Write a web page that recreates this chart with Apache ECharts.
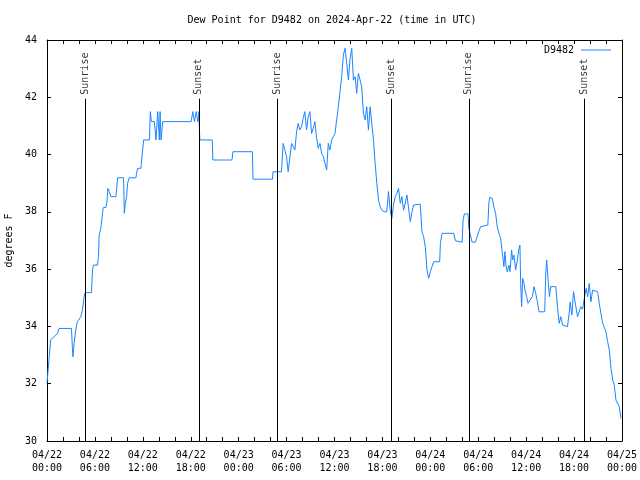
<!DOCTYPE html>
<html>
<head>
<meta charset="utf-8">
<script src="https://cdn.jsdelivr.net/npm/echarts@6/dist/echarts.min.js"></script>
<style>html,body{margin:0;padding:0;background:#fff}#c{width:640px;height:480px}</style>
</head>
<body>
<div id="c"></div>
<script>
// Hours since 2024-04-22 00:00 UTC
var hours = [0.00,0.04,0.25,0.46,0.67,0.88,1.30,1.51,3.06,3.18,3.25,3.39,3.60,3.81,4.02,4.23,4.44,4.65,4.77,5.57,5.70,5.82,6.32,6.45,6.53,6.74,6.95,7.05,7.37,7.50,7.62,7.79,8.00,8.63,8.84,9.59,9.68,9.80,9.97,10.09,10.30,11.14,11.22,11.35,11.77,11.85,12.10,12.82,12.94,13.07,13.23,13.44,13.65,13.86,14.07,14.16,14.28,14.49,18.05,18.26,18.47,18.68,18.89,19.02,19.10,19.15,20.69,20.77,23.16,23.29,25.72,25.80,28.23,28.31,29.36,29.57,29.78,29.99,30.20,30.41,30.62,30.83,31.04,31.25,31.45,31.66,31.87,32.08,32.29,32.50,32.71,32.92,33.13,33.34,33.55,33.76,33.97,34.18,34.39,34.60,34.81,35.02,35.22,35.43,35.64,35.85,36.06,36.27,36.48,36.69,36.90,37.11,37.32,37.53,37.74,37.95,38.16,38.37,38.58,38.78,38.99,39.20,39.41,39.62,39.83,40.04,40.25,40.46,40.67,40.88,41.09,41.30,41.51,41.72,41.93,42.22,42.55,42.76,42.97,43.18,43.39,43.60,43.81,44.02,44.23,44.44,44.65,44.86,45.07,45.28,45.49,45.70,45.91,46.74,46.95,47.16,47.37,47.58,47.79,48.00,48.21,48.42,49.17,49.26,49.47,50.93,51.14,51.27,51.98,52.10,52.27,52.73,52.82,53.02,53.23,53.65,53.86,54.07,54.28,54.49,55.20,55.33,55.45,55.75,55.96,56.17,56.38,56.59,56.80,57.00,57.21,57.34,57.47,57.63,57.84,57.97,58.18,58.30,58.47,58.68,58.89,59.10,59.22,59.31,59.43,59.56,59.73,59.85,60.06,60.23,60.48,60.77,60.98,61.19,61.40,61.61,62.32,62.45,62.57,62.66,62.78,62.91,63.08,63.71,63.92,64.13,64.34,64.55,64.75,65.17,65.38,65.51,65.72,65.93,66.09,66.22,66.43,66.64,66.85,67.06,67.27,67.39,67.52,67.69,67.90,68.11,68.32,68.52,68.94,69.15,69.36,69.57,69.78,69.99,70.20,70.41,70.62,70.83,71.03,71.24,71.45,71.66,71.87];
var dewPoint = [32.04,32.04,32.83,33.53,33.58,33.64,33.75,33.93,33.93,33.24,32.94,33.41,33.88,34.17,34.22,34.34,34.57,35.04,35.18,35.18,35.97,36.14,36.14,36.44,37.19,37.42,37.95,38.15,38.15,38.32,38.82,38.71,38.53,38.53,39.19,39.19,37.95,38.30,38.53,39.00,39.19,39.19,39.35,39.52,39.52,39.81,40.51,40.51,41.50,41.15,41.21,41.15,40.51,41.50,40.51,41.50,40.51,41.15,41.15,41.50,41.15,41.50,41.15,41.50,40.74,40.51,40.51,39.81,39.81,40.10,40.10,39.14,39.14,39.40,39.40,40.39,40.39,39.93,39.40,39.40,40.39,40.33,40.16,40.80,41.09,40.86,40.97,41.27,41.50,40.86,41.32,41.50,40.74,40.92,41.15,40.57,40.22,40.39,40.04,39.93,39.69,39.46,40.39,40.16,40.51,40.62,40.74,41.21,41.67,42.20,42.72,43.48,43.71,43.19,42.60,43.36,43.71,42.60,42.72,42.14,42.84,42.90,42.37,41.44,41.21,41.67,40.86,41.67,41.09,40.51,39.69,39.00,38.41,38.18,38.06,38.00,38.00,38.71,38.06,37.77,38.24,38.53,38.65,38.82,38.30,38.53,38.06,38.30,38.59,38.53,37.66,38.00,38.24,38.27,37.31,37.13,36.78,35.97,35.68,35.91,36.09,36.26,36.26,36.90,37.25,37.25,36.99,36.94,36.94,37.72,37.93,37.93,37.42,37.19,36.94,36.94,37.13,37.31,37.48,37.54,37.54,38.30,38.51,38.47,38.18,37.95,37.48,37.25,37.08,36.61,36.09,36.61,36.14,35.91,36.14,35.91,36.67,36.32,36.49,35.97,36.32,36.73,36.84,35.50,34.69,35.68,35.50,35.27,35.04,34.81,34.86,35.04,35.39,35.16,34.86,34.51,34.51,35.85,36.32,35.97,35.50,35.04,35.39,35.39,34.69,34.11,34.34,34.05,33.99,33.99,34.46,34.86,34.40,35.21,35.21,34.69,34.34,34.34,34.69,34.60,34.57,35.16,35.33,35.04,35.50,34.86,35.27,35.21,35.21,34.81,34.46,34.11,34.11,33.82,33.47,33.18,32.54,32.13,31.96,31.43,31.43,31.20,30.79];
var eventHours = [4.82, 19.02, 28.82, 43.14, 52.82, 67.27];
var eventNames = ["Sunrise", "Sunset", "Sunrise", "Sunset", "Sunrise", "Sunset"];
var eventLineTop = 41.95;
var xTickLabels = ["04/22\n00:00","04/22\n06:00","04/22\n12:00","04/22\n18:00","04/23\n00:00","04/23\n06:00","04/23\n12:00","04/23\n18:00","04/24\n00:00","04/24\n06:00","04/24\n12:00","04/24\n18:00","04/25\n00:00"];
var seriesName = "D9482";
var titleText = "Dew Point for D9482 on 2024-Apr-22 (time in UTC)";
var yName = "degrees F";

var FONT = "DejaVu Sans Mono";
var lineData = hours.map(function (h, i) { return [h, dewPoint[i]]; });
var markData = eventHours.map(function (h) { return [{coord: [h, 30]}, {coord: [h, eventLineTop]}]; });
var labelData = eventHours.map(function (h, i) { return {value: [h, eventLineTop], name: eventNames[i]}; });

var axisCommon = {
  type: 'value', min: 0, max: 72, interval: 6,
  axisLine: {show: true, onZero: false, lineStyle: {color: '#000', width: 1}},
  axisTick: {show: true, inside: true, length: 4, lineStyle: {color: '#000'}},
  minorTick: {show: true, splitNumber: 3, length: 4, lineStyle: {color: '#000'}},
  splitLine: {show: false}
};
var yCommon = {
  type: 'value', min: 30, max: 44, interval: 2,
  axisLine: {show: true, onZero: false, lineStyle: {color: '#000', width: 1}},
  axisTick: {show: true, inside: true, length: 4, lineStyle: {color: '#000'}},
  splitLine: {show: false}
};

var chart = echarts.init(document.getElementById('c'), null, {renderer: 'canvas'});
chart.setOption({
  animation: false,
  backgroundColor: '#fff',
  textStyle: {fontFamily: FONT},
  title: {
    text: titleText, left: 327, top: 10, textAlign: 'center',
    textStyle: {fontFamily: FONT, fontSize: 10, fontWeight: 'normal', color: '#000'}
  },
  legend: {
    data: [{name: seriesName, icon: 'rect'}],
    right: 24, top: 40, align: 'right',
    itemWidth: 30, itemHeight: 1, itemGap: 4,
    textStyle: {fontFamily: FONT, fontSize: 10, color: '#000', padding: [0, 2, 0, 0]}
  },
  grid: {left: 47, right: 18, top: 40, bottom: 39, containLabel: false, outerBoundsMode: 'none'},
  xAxis: [
    Object.assign({}, axisCommon, {
      position: 'bottom',
      axisLabel: {
        show: true, margin: 8, color: '#000', fontFamily: FONT, fontSize: 10, lineHeight: 13,
        formatter: function (v) { return xTickLabels[Math.round(v / 6)]; }
      }
    }),
    Object.assign({}, axisCommon, {position: 'top', axisLabel: {show: false}})
  ],
  yAxis: [
    Object.assign({}, yCommon, {
      position: 'left', name: yName, nameLocation: 'middle', nameGap: 32, nameRotate: 90,
      nameTextStyle: {fontFamily: FONT, fontSize: 10, color: '#000'},
      axisLabel: {show: true, margin: 10, color: '#000', fontFamily: FONT, fontSize: 10}
    }),
    Object.assign({}, yCommon, {position: 'right', axisLabel: {show: false}})
  ],
  series: [
    {
      name: seriesName, type: 'line', data: lineData, xAxisIndex: 0, yAxisIndex: 0,
      showSymbol: false, symbol: 'none', smooth: false,
      lineStyle: {color: '#1a85ff', width: 1}, itemStyle: {color: '#1a85ff'},
      z: 3,
      markLine: {
        silent: true, symbol: ['none', 'none'], animation: false,
        label: {show: false},
        lineStyle: {color: '#000', width: 1, type: 'solid'},
        data: markData
      }
    },
    {
      name: 'events', type: 'scatter', data: labelData, symbolSize: 0,
      silent: true, z: 4,
      label: {
        show: true, formatter: '{b}', rotate: 90, position: 'top', distance: 4,
        align: 'left', verticalAlign: 'middle',
        color: '#000', fontFamily: FONT, fontSize: 10
      }
    }
  ]
});
</script>
</body>
</html>
